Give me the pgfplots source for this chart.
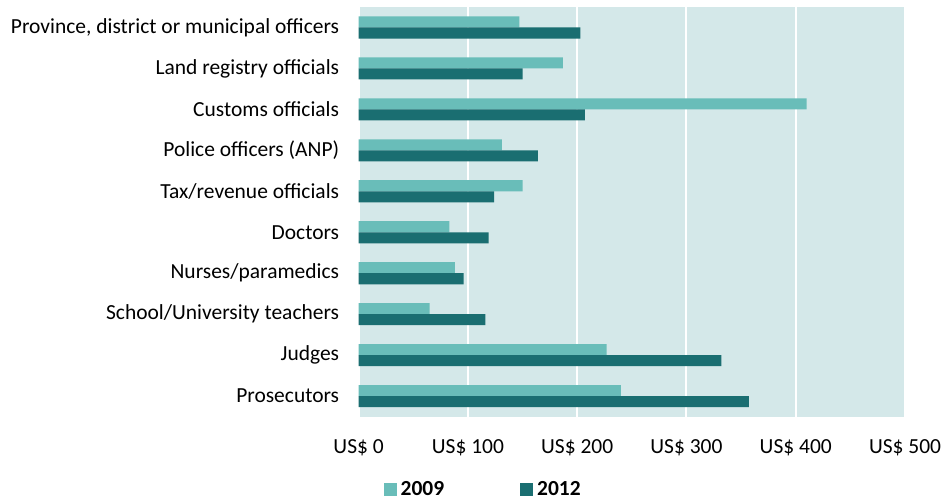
\documentclass[border=0pt]{standalone}
\usepackage{fontspec}
\setmainfont{Carlito}
\usepackage{pgfplots}
\pgfplotsset{compat=1.18}
\definecolor{bgteal}{HTML}{D4E8E9}
\definecolor{light}{HTML}{69BDB9}
\definecolor{dark}{HTML}{1A6E71}
\begin{document}
\begin{tikzpicture}
\begin{axis}[
    name=ax,
    scale only axis,
    width=547pt, height=410pt,
    font=\fontsize{21.5}{25}\selectfont,
    xbar, bar width=0.27,
    xmin=0, xmax=500,
    ymin=-0.5, ymax=9.5,
    y dir=reverse,
    axis background/.style={fill=bgteal},
    axis line style={draw=none},
    major tick length=0pt,
    xtick={0,100,200,300,400,500},
    xticklabels={US\$ 0, US\$ 100, US\$ 200, US\$ 300, US\$ 400, US\$ 500},
    xticklabel style={yshift=-19pt},
    ytick={0,...,9},
    yticklabels={{Province, district or municipal officers}, Land registry officials, Customs officials, Police officers (ANP), Tax/revenue officials, Doctors, Nurses/paramedics, School/University teachers, Judges, Prosecutors},
    yticklabel style={xshift=-16pt},
    xmajorgrids, grid style={white, line width=2pt},
    legend style={draw=none, fill=none, at={(0.228,-0.178)}, anchor=center,
        legend columns=2, font=\fontsize{21.5}{25}\selectfont\bfseries,
        /tikz/every odd column/.append style={column sep=2pt},
        /tikz/every even column/.append style={column sep=74pt}},
    legend image code/.code={\fill[#1] (0pt,-6.5pt) rectangle (13pt,6.5pt);},
]
\addplot[fill=light, draw=none, bar shift=-0.135] coordinates {
    (147,0) (187,1) (410,2) (131,3) (150,4) (83,5) (88,6) (65,7) (227,8) (240,9)};
\addplot[fill=dark, draw=none, bar shift=0.135] coordinates {
    (203,0) (150,1) (207,2) (164,3) (124,4) (119,5) (96,6) (116,7) (332,8) (357,9)};
\legend{2009, 2012}
\end{axis}
\path ([xshift=-359pt,yshift=7pt]ax.north west) ([xshift=43pt,yshift=-82pt]ax.south east);
\end{tikzpicture}
\end{document}
